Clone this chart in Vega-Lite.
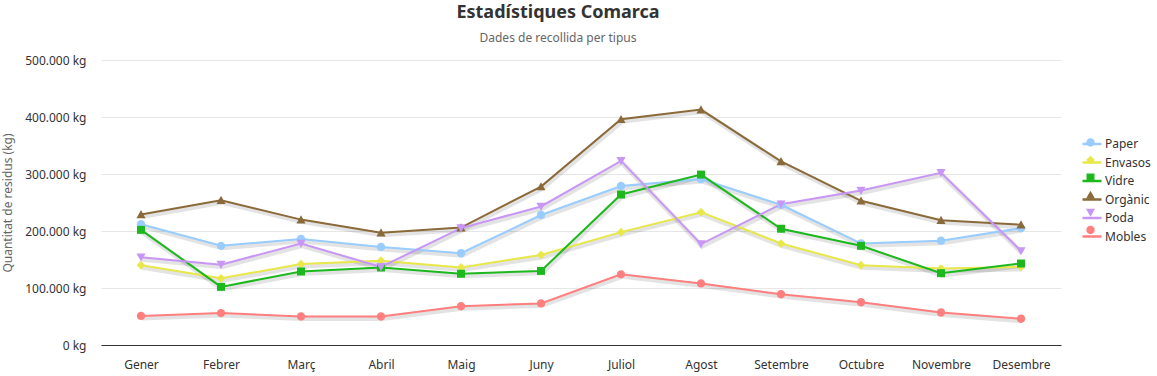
{
  "$schema": "https://vega.github.io/schema/vega-lite/v6.json",
  "width": 960,
  "height": 285,
  "autosize": "none",
  "padding": {"left": 101, "top": 60, "right": 96, "bottom": 31},
  "background": "#ffffff",
  "config": {
    "view": {"stroke": null},
    "font": "Noto Sans",
    "axis": {"labelFont": "Noto Sans", "titleFont": "Noto Sans"},
    "legend": {"labelFont": "Noto Sans"}
  },
  "title": {
    "text": "Estadístiques Comarca",
    "subtitle": "Dades de recollida per tipus",
    "anchor": "middle",
    "dx": -23,
    "offset": 10,
    "font": "Noto Sans",
    "fontSize": 18,
    "fontWeight": "bold",
    "color": "#333333",
    "subtitleFont": "Noto Sans",
    "subtitleFontSize": 12,
    "subtitleColor": "#666666",
    "subtitlePadding": 11
  },
  "data": {"values": [
    {"mes": "Gener", "tipus": "Paper", "kg": 212000}, {"mes": "Febrer", "tipus": "Paper", "kg": 174000}, {"mes": "Març", "tipus": "Paper", "kg": 186000}, {"mes": "Abril", "tipus": "Paper", "kg": 172000}, {"mes": "Maig", "tipus": "Paper", "kg": 161000}, {"mes": "Juny", "tipus": "Paper", "kg": 228000}, {"mes": "Juliol", "tipus": "Paper", "kg": 279000}, {"mes": "Agost", "tipus": "Paper", "kg": 291000}, {"mes": "Setembre", "tipus": "Paper", "kg": 246000}, {"mes": "Octubre", "tipus": "Paper", "kg": 178000}, {"mes": "Novembre", "tipus": "Paper", "kg": 183000}, {"mes": "Desembre", "tipus": "Paper", "kg": 205000},
    {"mes": "Gener", "tipus": "Envasos", "kg": 140000}, {"mes": "Febrer", "tipus": "Envasos", "kg": 117000}, {"mes": "Març", "tipus": "Envasos", "kg": 142000}, {"mes": "Abril", "tipus": "Envasos", "kg": 148000}, {"mes": "Maig", "tipus": "Envasos", "kg": 136000}, {"mes": "Juny", "tipus": "Envasos", "kg": 158000}, {"mes": "Juliol", "tipus": "Envasos", "kg": 198000}, {"mes": "Agost", "tipus": "Envasos", "kg": 233000}, {"mes": "Setembre", "tipus": "Envasos", "kg": 178000}, {"mes": "Octubre", "tipus": "Envasos", "kg": 140000}, {"mes": "Novembre", "tipus": "Envasos", "kg": 134000}, {"mes": "Desembre", "tipus": "Envasos", "kg": 137000},
    {"mes": "Gener", "tipus": "Vidre", "kg": 202000}, {"mes": "Febrer", "tipus": "Vidre", "kg": 102000}, {"mes": "Març", "tipus": "Vidre", "kg": 129000}, {"mes": "Abril", "tipus": "Vidre", "kg": 136000}, {"mes": "Maig", "tipus": "Vidre", "kg": 125000}, {"mes": "Juny", "tipus": "Vidre", "kg": 130000}, {"mes": "Juliol", "tipus": "Vidre", "kg": 264000}, {"mes": "Agost", "tipus": "Vidre", "kg": 299000}, {"mes": "Setembre", "tipus": "Vidre", "kg": 204000}, {"mes": "Octubre", "tipus": "Vidre", "kg": 174000}, {"mes": "Novembre", "tipus": "Vidre", "kg": 126000}, {"mes": "Desembre", "tipus": "Vidre", "kg": 143000},
    {"mes": "Gener", "tipus": "Orgànic", "kg": 229000}, {"mes": "Febrer", "tipus": "Orgànic", "kg": 254000}, {"mes": "Març", "tipus": "Orgànic", "kg": 220000}, {"mes": "Abril", "tipus": "Orgànic", "kg": 197000}, {"mes": "Maig", "tipus": "Orgànic", "kg": 206000}, {"mes": "Juny", "tipus": "Orgànic", "kg": 278000}, {"mes": "Juliol", "tipus": "Orgànic", "kg": 396000}, {"mes": "Agost", "tipus": "Orgànic", "kg": 413000}, {"mes": "Setembre", "tipus": "Orgànic", "kg": 322000}, {"mes": "Octubre", "tipus": "Orgànic", "kg": 253000}, {"mes": "Novembre", "tipus": "Orgànic", "kg": 219000}, {"mes": "Desembre", "tipus": "Orgànic", "kg": 211000},
    {"mes": "Gener", "tipus": "Poda", "kg": 154000}, {"mes": "Febrer", "tipus": "Poda", "kg": 141000}, {"mes": "Març", "tipus": "Poda", "kg": 178000}, {"mes": "Abril", "tipus": "Poda", "kg": 137000}, {"mes": "Maig", "tipus": "Poda", "kg": 205000}, {"mes": "Juny", "tipus": "Poda", "kg": 243000}, {"mes": "Juliol", "tipus": "Poda", "kg": 323000}, {"mes": "Agost", "tipus": "Poda", "kg": 177000}, {"mes": "Setembre", "tipus": "Poda", "kg": 247000}, {"mes": "Octubre", "tipus": "Poda", "kg": 271000}, {"mes": "Novembre", "tipus": "Poda", "kg": 302000}, {"mes": "Desembre", "tipus": "Poda", "kg": 165000},
    {"mes": "Gener", "tipus": "Mobles", "kg": 51000}, {"mes": "Febrer", "tipus": "Mobles", "kg": 56000}, {"mes": "Març", "tipus": "Mobles", "kg": 50000}, {"mes": "Abril", "tipus": "Mobles", "kg": 50000}, {"mes": "Maig", "tipus": "Mobles", "kg": 68000}, {"mes": "Juny", "tipus": "Mobles", "kg": 73000}, {"mes": "Juliol", "tipus": "Mobles", "kg": 124000}, {"mes": "Agost", "tipus": "Mobles", "kg": 108000}, {"mes": "Setembre", "tipus": "Mobles", "kg": 89000}, {"mes": "Octubre", "tipus": "Mobles", "kg": 75000}, {"mes": "Novembre", "tipus": "Mobles", "kg": 57000}, {"mes": "Desembre", "tipus": "Mobles", "kg": 46000}
  ]},
  "encoding": {
    "x": {
      "field": "mes", "type": "ordinal",
      "sort": ["Gener", "Febrer", "Març", "Abril", "Maig", "Juny", "Juliol", "Agost", "Setembre", "Octubre", "Novembre", "Desembre"],
      "axis": {"title": null, "labelAngle": 0, "ticks": false, "domainColor": "#333333", "domainWidth": 1, "labelColor": "#333333", "labelFontSize": 12, "labelPadding": 14, "grid": false}
    },
    "y": {
      "field": "kg", "type": "quantitative",
      "scale": {"domain": [0, 500000], "nice": false},
      "axis": {
        "title": "Quantitat de residus (kg)", "titleColor": "#666666", "titleFontSize": 12, "titleFontWeight": "normal", "titlePadding": 10,
        "values": [0, 100000, 200000, 300000, 400000, 500000],
        "labelExpr": "replace(format(datum.value, ','), ',', '.') + ' kg'",
        "labelColor": "#333333", "labelFontSize": 12, "labelPadding": 15,
        "ticks": false, "domain": false, "gridColor": "#e6e6e6", "gridWidth": 1
      }
    }
  },
  "layer": [
    {
      "mark": {"type": "line", "stroke": "#000000", "strokeOpacity": 0.11, "strokeWidth": 5, "yOffset": 2, "xOffset": 1},
      "encoding": {"detail": {"field": "tipus"}}
    },
    {
      "mark": {"type": "line", "strokeWidth": 2},
      "encoding": {
        "stroke": {
          "field": "tipus", "type": "nominal",
          "sort": ["Paper", "Envasos", "Vidre", "Orgànic", "Poda", "Mobles"],
          "scale": {"range": ["#99ccff", "#e8e84a", "#1db81d", "#8b6a3a", "#c896f5", "#ff7f7f"]},
          "legend": {"title": null, "orient": "none", "legendX": 980, "legendY": 73, "symbolType": "stroke", "symbolSize": 361, "symbolStrokeWidth": 2.5, "labelFontSize": 12, "labelColor": "#333333", "labelOffset": 2, "rowPadding": 1.5, "padding": 0}
        }
      }
    },
    {
      "mark": {"type": "point", "filled": true, "opacity": 1, "size": 361, "strokeWidth": 0},
      "encoding": {
        "fill": {
          "field": "tipus", "type": "nominal",
          "scale": {"domain": ["Paper", "Envasos", "Vidre", "Orgànic", "Poda", "Mobles"], "range": ["#99ccff", "#e8e84a", "#1db81d", "#8b6a3a", "#c896f5", "#ff7f7f"]},
          "legend": {"title": null, "orient": "none", "legendX": 980, "legendY": 73, "symbolSize": 361, "symbolStrokeWidth": 0, "symbolOpacity": 1, "labelFontSize": 12, "labelExpr": "''", "labelOffset": 2, "rowPadding": 1.5, "padding": 0}
        },
        "shape": {
          "field": "tipus", "type": "nominal",
          "scale": {"domain": ["Paper", "Envasos", "Vidre", "Orgànic", "Poda", "Mobles"], "range": [
            "M-0.44,0A0.44,0.44 0 1,0 0.44,0A0.44,0.44 0 1,0 -0.44,0Z",
            "M0,-0.46L0.46,0L0,0.46L-0.46,0Z",
            "M-0.42,-0.42H0.42V0.42H-0.42Z",
            "M0,-0.46L0.48,0.4L-0.48,0.4Z",
            "M0,0.46L0.48,-0.4L-0.48,-0.4Z",
            "M-0.44,0A0.44,0.44 0 1,0 0.44,0A0.44,0.44 0 1,0 -0.44,0Z"
          ]},
          "legend": {"title": null, "orient": "none", "legendX": 980, "legendY": 73, "symbolSize": 361, "symbolStrokeWidth": 0, "symbolOpacity": 1, "labelExpr": "''", "labelFontSize": 12, "labelOffset": 2, "rowPadding": 1.5, "padding": 0}
        }
      }
    }
  ]
}
